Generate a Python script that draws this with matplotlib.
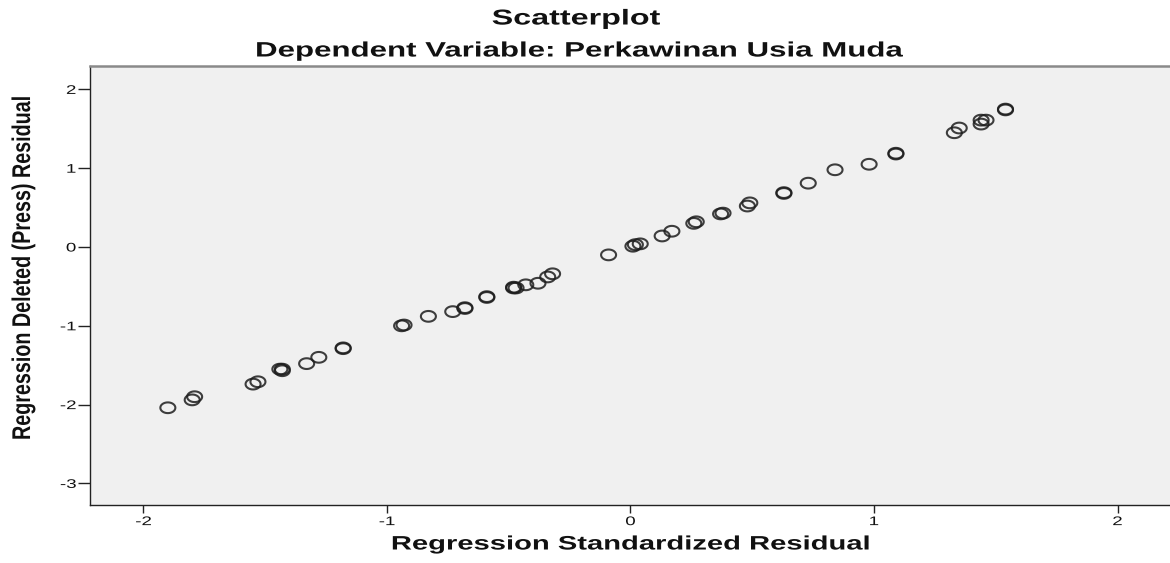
import matplotlib
matplotlib.use("Agg")
import matplotlib.pyplot as plt
import numpy as np
from matplotlib.patheffects import AbstractPathEffect
from matplotlib.transforms import Affine2D
from matplotlib.path import Path
from matplotlib.markers import MarkerStyle

# ---- data ----
std_resid = [-1.90, -1.80, -1.79, -1.55, -1.53, -1.44, -1.43, -1.43, -1.33, -1.28,
             -1.18, -1.18, -0.94, -0.93, -0.83, -0.73, -0.68, -0.68, -0.59, -0.59,
             -0.48, -0.48, -0.47, -0.43, -0.38, -0.34, -0.32, -0.09, 0.01, 0.02,
             0.04, 0.13, 0.17, 0.26, 0.27, 0.37, 0.38, 0.48, 0.49, 0.63, 0.63,
             0.73, 0.84, 0.98, 1.09, 1.09, 1.33, 1.35, 1.44, 1.44, 1.46, 1.54, 1.54]
press_resid = [-2.04, -1.94, -1.90, -1.74, -1.71, -1.55, -1.57, -1.55, -1.48, -1.40,
               -1.28, -1.29, -1.00, -0.99, -0.88, -0.82, -0.77, -0.78, -0.63, -0.64,
               -0.52, -0.51, -0.52, -0.48, -0.46, -0.38, -0.34, -0.10, 0.01, 0.03,
               0.04, 0.14, 0.20, 0.30, 0.32, 0.42, 0.43, 0.52, 0.56, 0.69, 0.68,
               0.81, 0.98, 1.05, 1.19, 1.18, 1.45, 1.51, 1.56, 1.61, 1.61, 1.75, 1.74]
x_ticks = [-2, -1, 0, 1, 2]
y_ticks = [-3, -2, -1, 0, 1, 2]

title_main = "Scatterplot"
title_sub = "Dependent Variable: Perkawinan Usia Muda"
x_label = "Regression Standardized Residual"
y_label = "Regression Deleted (Press) Residual"

SX = 1.5  # horizontal stretch seen in the reference image


class HStretch(AbstractPathEffect):
    """Stretch rendered text horizontally (display x) about an anchor."""
    def __init__(self, sx=1.5, anchor="center"):
        super().__init__()
        self.sx = sx
        self.anchor = anchor

    def draw_path(self, renderer, gc, tpath, affine, rgbFace=None):
        ext = tpath.get_extents(affine)
        if self.anchor == "right":
            a = ext.x1
        elif self.anchor == "left":
            a = ext.x0
        else:
            a = 0.5 * (ext.x0 + ext.x1)
        st = Affine2D().translate(-a, 0).scale(self.sx, 1.0).translate(a, 0)
        renderer.draw_path(gc, tpath, affine + st, rgbFace)


plt.rcParams["font.family"] = ["Liberation Sans", "DejaVu Sans"]

fig = plt.figure(figsize=(11.70, 5.63), dpi=100)
W, H = 1170.0, 563.0
ax = fig.add_axes([90 / W, (H - 505) / H, (1170 - 90) / W, (505 - 66) / H])
ax.set_facecolor("#f0f0f0")

# elliptical open marker (wider than tall, like the reference)
t = np.linspace(0, 2 * np.pi, 60)
ell = Path(np.column_stack([1.4 * np.cos(t), np.sin(t)]), closed=True)
ax.scatter(std_resid, press_resid, marker=MarkerStyle(ell), s=10.8 ** 2,
           facecolors="none", edgecolors="#1e1e1e", linewidths=1.5, alpha=0.85,
           zorder=3)

ax.set_xlim(-2.2197, 2.2156)
ax.set_ylim(-3.274, 2.297)
ax.set_xticks(x_ticks)
ax.set_yticks(y_ticks)
ax.set_xticklabels([str(v) for v in x_ticks])
ax.set_yticklabels([str(v) for v in y_ticks])
ax.tick_params(axis="both", direction="out", width=1.0, color="#222222",
               labelsize=9, labelcolor="#111111", pad=2)
ax.tick_params(axis="x", length=6)
ax.tick_params(axis="y", length=8.5, pad=1.5)

for s in ("left", "bottom"):
    ax.spines[s].set_color("#222222")
    ax.spines[s].set_linewidth(1.0)
ax.spines["top"].set_color("#8a8a8a")
ax.spines["top"].set_linewidth(1.8)
ax.spines["right"].set_visible(False)

for lbl in ax.get_xticklabels():
    lbl.set_path_effects([HStretch(SX, "center")])
for lbl in ax.get_yticklabels():
    lbl.set_path_effects([HStretch(SX, "right")])

pe_c = [HStretch(SX, "center")]
fig.text(576 / W, 1 - 19 / H, title_main, ha="center", va="center",
         fontsize=15.5, fontweight="bold", color="#111111", path_effects=pe_c)
fig.text(580 / W, 1 - 51 / H, title_sub, ha="center", va="center",
         fontsize=15, fontweight="bold", color="#111111", path_effects=pe_c)
fig.text(631 / W, 1 - 545 / H, x_label, ha="center", va="center",
         fontsize=14, fontweight="bold", color="#111111", path_effects=pe_c)
fig.text(23 / W, 1 - 268 / H, y_label, ha="center", va="center", rotation=90,
         fontsize=14.2, fontweight="bold", color="#111111",
         path_effects=[HStretch(1.3, "center")])

fig.savefig("out.png", dpi=100, facecolor="white")
